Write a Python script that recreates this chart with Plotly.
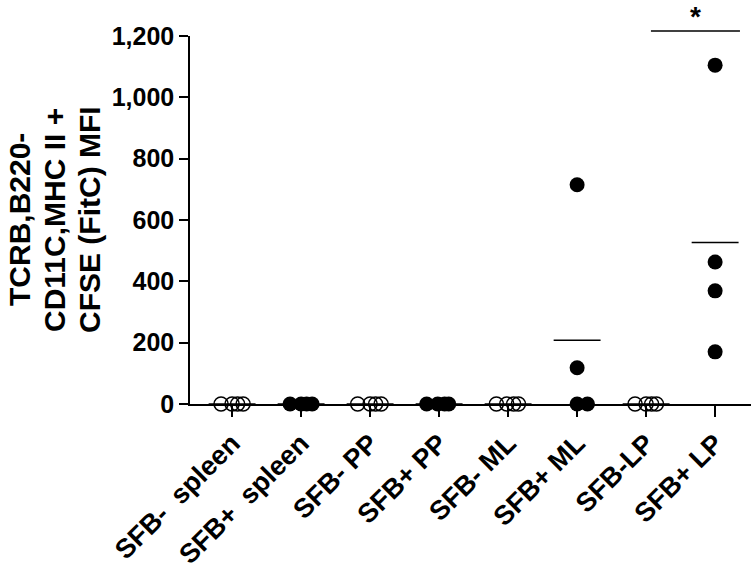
import plotly.graph_objects as go

# ---- data ----
categories = ["SFB-\u00a0 spleen", "SFB+\u00a0 spleen", "SFB- PP", "SFB+ PP",
              "SFB- ML", "SFB+ ML", "SFB-LP", "SFB+ LP"]
filled = [False, True, False, True, False, True, False, True]
values = [
    [0, 0, 0, 0],
    [0, 0, 0, 0],
    [0, 0, 0, 0],
    [0, 0, 0, 0],
    [0, 0, 0, 0],
    [715, 118, 0, 0],
    [0, 0, 0, 0],
    [1105, 463, 369, 170],
]
# horizontal scatter offsets within each group (category units)
jitter = [
    [-0.16, 0.0, 0.08, 0.16],
    [-0.16, 0.0, 0.08, 0.16],
    [-0.18, 0.0, 0.08, 0.16],
    [-0.18, -0.02, 0.08, 0.14],
    [-0.17, -0.02, 0.08, 0.15],
    [0.0, 0.0, 0.0, 0.15],
    [-0.16, 0.0, 0.08, 0.15],
    [0.0, 0.0, 0.0, 0.0],
]
y_ticks = [0, 200, 400, 600, 800, 1000, 1200]
y_title_lines = ["TCRB,B220-", "CD11C,MHC II +", "CFSE (FitC) MFI"]
sig_pair = (6, 7)
sig_level = 1216
sig_text = "*"

FONT = "Liberation Sans, Arial, sans-serif"
W, H = 751, 576
ML, MR, MT, MB = 190, 0, 36, 172
fig = go.Figure()

for i, (cat, vals) in enumerate(zip(categories, values)):
    xs = [i + j for j in jitter[i]]
    if filled[i]:
        marker = dict(symbol="circle", size=15, color="black", line=dict(width=0))
    else:
        marker = dict(symbol="circle-open", size=14, color="black", line=dict(width=1.5))
    fig.add_trace(go.Scatter(x=xs, y=vals, mode="markers", marker=marker,
                             cliponaxis=False, showlegend=False, hoverinfo="y"))
    mean = sum(vals) / len(vals)
    fig.add_shape(type="line", xref="x", yref="y", x0=i - 0.34, x1=i + 0.34,
                  y0=mean, y1=mean, line=dict(color="black", width=1.5))

# significance bar
ymax = y_ticks[-1]
fig.add_shape(type="line", xref="x", yref="paper",
              x0=sig_pair[0] + 0.07, x1=sig_pair[1] + 0.36,
              y0=sig_level / ymax, y1=sig_level / ymax,
              line=dict(color="black", width=1.5))
fig.add_annotation(x=(sig_pair[0] + 0.07 + sig_pair[1] + 0.36) / 2, y=sig_level / ymax,
                   xref="x", yref="paper", text="<b>" + sig_text + "</b>",
                   showarrow=False, yanchor="bottom", yshift=-3,
                   font=dict(family=FONT, size=28, color="black"))

# y-axis title as three rotated lines
plot_w = W - ML - MR
for k, (line, px) in enumerate(zip(y_title_lines, [19, 54, 89])):
    fig.add_annotation(x=(px - ML) / plot_w, y=0.5, xref="paper", yref="paper",
                       text="<b>" + line + "</b>", textangle=-90, showarrow=False,
                       xanchor="center", yanchor="middle",
                       font=dict(family=FONT, size=30, color="black"))

fig.update_layout(
    width=W, height=H,
    margin=dict(l=ML, r=MR, t=MT, b=MB),
    plot_bgcolor="white", paper_bgcolor="white",
    font=dict(family=FONT, color="black"),
    showlegend=False,
)
fig.update_xaxes(
    range=[-0.61, 7.52], tickvals=list(range(len(categories))),
    ticktext=["<b>" + c + "</b>" for c in categories],
    tickangle=-45, tickfont=dict(family=FONT, size=27, color="black"),
    showline=True, linecolor="black", linewidth=1.5,
    ticks="outside", ticklen=11, tickwidth=1.5, tickcolor="black",
    showgrid=False, zeroline=False, automargin=False,
)
fig.update_yaxes(
    range=[0, ymax], tickvals=y_ticks,
    ticktext=["<b>" + f"{v:,}" + "</b>" for v in y_ticks],
    tickfont=dict(family=FONT, size=25, color="black"),
    showline=True, linecolor="black", linewidth=1.5,
    ticks="outside", ticklen=9, tickwidth=1.5, tickcolor="black",
    showgrid=False, zeroline=False, automargin=False,
)

fig.write_html("out.html", config={"displayModeBar": False},
               post_script="document.body.style.margin='0';"
                           "document.body.style.overflow='hidden';")
